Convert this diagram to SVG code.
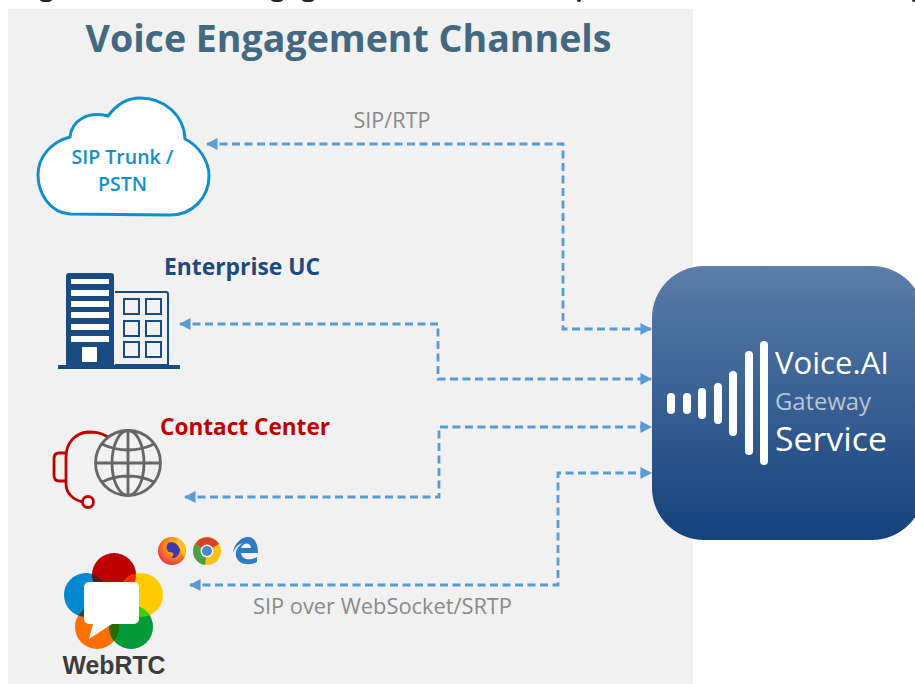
<svg xmlns="http://www.w3.org/2000/svg" width="915" height="684" viewBox="0 0 915 684">
<style>
.t{font-family:"Open Sans","Noto Sans","Liberation Sans",sans-serif}
.b{font-weight:600}
.lab{font-size:21px;fill:#8a8a8a}
.c{fill:none;stroke:#5b9bd5;stroke-width:2.8;stroke-dasharray:8 4.500}
.w{fill:#fff}
.bd{fill:none;stroke:#1a4a82;stroke-width:2}
.g{fill:none;stroke:#666;stroke-width:2.800}
.r{fill:none;stroke:#c00000;stroke-width:2.800}
</style>
<defs>
<marker id="ah" viewBox="0 0 10 10" refX="9" refY="5" markerWidth="4.400" markerHeight="4.200" orient="auto-start-reverse" markerUnits="strokeWidth"><path d="M0 0L10 5L0 10Z" fill="#5b9bd5"/></marker>
<linearGradient id="gr" x1="0" y1="0" x2="0" y2="1"><stop offset="0" stop-color="#5b7da8"/><stop offset="1" stop-color="#14427c"/></linearGradient>
<radialGradient id="ff" cx="0.6" cy="0.35" r="0.75"><stop offset="0" stop-color="#ffd52a"/><stop offset="0.55" stop-color="#ff7a1c"/><stop offset="1" stop-color="#d8235c"/></radialGradient>
<clipPath id="cr"><circle cx="114" cy="575" r="22"/></clipPath>
<clipPath id="co"><circle cx="97" cy="627" r="22"/></clipPath>
<clipPath id="cy"><circle cx="141" cy="595" r="22"/></clipPath>
</defs>
<rect width="915" height="684" fill="#fff"/>
<g id="clipped-caption" fill="#222"><ellipse cx="46" cy="0" rx="6" ry="2"/><ellipse cx="277" cy="0" rx="6" ry="2"/><ellipse cx="308" cy="0" rx="6" ry="2"/><ellipse cx="579" cy="0" rx="2" ry="2"/><ellipse cx="914" cy="0" rx="2" ry="2"/></g>
<rect x="8" y="9" width="685" height="675" fill="#f1f1f1"/>
<text class="t" font-weight="700" x="348.500" y="52" font-size="38" fill="#43687f" text-anchor="middle" textLength="526" lengthAdjust="spacingAndGlyphs">Voice Engagement Channels</text>
<g id="connectors">
<path class="c" d="M207 144H563V329H651" marker-start="url(#ah)" marker-end="url(#ah)"/>
<path class="c" d="M180 324H438V379H651" marker-start="url(#ah)" marker-end="url(#ah)"/>
<path class="c" d="M185 497H439V427H651" marker-start="url(#ah)" marker-end="url(#ah)"/>
<path class="c" d="M190 585H558V473H651" marker-start="url(#ah)" marker-end="url(#ah)"/>
</g>
<text class="t lab" x="392" y="128" text-anchor="middle" textLength="77" lengthAdjust="spacingAndGlyphs">SIP/RTP</text>
<text class="t lab" x="382.500" y="614" text-anchor="middle" textLength="259" lengthAdjust="spacingAndGlyphs">SIP over WebSocket/SRTP</text>
<g id="sip-trunk">
<path d="M70 214C50 213 38 193 38 175C38 157 51 142 70 137C72 120 88 111 108 116C117 104 128 98 140 98C164 98 184 115 185 139C199 146 209 161 209 176C209 197 193 215 170 215Z" fill="#fff" stroke="#0f8fcd" stroke-width="3"/>
<text class="t b" x="122.500" y="164" font-size="19.500" fill="#0f8fcd" text-anchor="middle" textLength="102" lengthAdjust="spacingAndGlyphs">SIP Trunk /</text>
<text class="t b" x="122.500" y="191" font-size="19.500" fill="#0f8fcd" text-anchor="middle">PSTN</text>
</g>
<g id="enterprise-uc">
<text class="t" font-weight="700" x="164" y="275" font-size="22.500" fill="#1c4a80" textLength="156" lengthAdjust="spacingAndGlyphs">Enterprise UC</text>
<path d="M66 276a3 3 0 0 1 3-3h42a3 3 0 0 1 3 3v90H66Z" fill="#1a4a82"/>
<g class="w"><rect x="71" y="279" width="38" height="5"/><rect x="71" y="290" width="38" height="6"/><rect x="71" y="301" width="38" height="6"/><rect x="71" y="312" width="38" height="6"/><rect x="71" y="324" width="38" height="6"/><rect x="71" y="336" width="38" height="6"/><rect x="82" y="347" width="15" height="15"/></g>
<path d="M115 292H166a2 2 0 0 1 2 2V365H115" fill="none" stroke="#1a4a82" stroke-width="2"/>
<rect x="124" y="299" width="15" height="15" class="bd"/><rect x="146" y="299" width="15" height="15" class="bd"/><rect x="124" y="321" width="15" height="15" class="bd"/><rect x="146" y="321" width="15" height="15" class="bd"/><rect x="124" y="342" width="15" height="15" class="bd"/><rect x="146" y="342" width="15" height="15" class="bd"/>
<rect x="58" y="365" width="122" height="4" fill="#1a4a82"/>
</g>
<g id="contact-center">
<text class="t" font-weight="700" x="160" y="435" font-size="22.500" fill="#c00000" textLength="170" lengthAdjust="spacingAndGlyphs">Contact Center</text>
<path class="r" d="M108 437C100 432 94 432 88 432C75 433 66 443 66 457V484C66 493 73 500 83 502"/>
<path class="r" d="M66 453H59C55 453 54 456 54 459V475C54 479 56 481 59 481H66"/>
<circle class="r" cx="88" cy="502" r="5.500"/>
<circle cx="128" cy="463" r="32.500" class="g"/>
<ellipse cx="128" cy="463" rx="16" ry="32.500" class="g"/>
<path class="g" d="M128 430V496M95.500 463H160.500M102 444C118 452 138 452 154 444M102 482C118 474 138 474 154 482"/>
</g>
<g id="browsers">
<circle cx="172" cy="551" r="14" fill="url(#ff)"/>
<path d="M168 543C173 541 178 544 180 549C180 555 176 559 171 558C175 555 174 552 169 552C166 550 166 546 168 543Z" fill="#3a3aa8"/>
<path d="M176 537C185 541 188 552 184 558L179 547Z" fill="#ffc21c"/>
<circle cx="207" cy="551" r="14" fill="#fbc013"/><path d="M207 551L195 544A14 14 0 0 1 219 544Z" fill="#d8402c"/><path d="M207 551L195 544A14 14 0 0 0 205 565Z" fill="#4c9f45"/><circle cx="207" cy="551" r="6.500" fill="#f4f4f4"/><circle cx="207" cy="551" r="5" fill="#4a88c8"/>
<path fill-rule="evenodd" d="M233 553C234 543 242 537 248 537C255 537 258 544 258 553H241C242 560 250 561 257 557V562C250 566 238 565 236 556C235 551 238 546 243 543C238 544 235 548 233 553ZM241 548H251C251 542 243 542 241 548Z" fill="#2f7ac4"/>
</g>
<g id="webrtc">
<circle cx="114" cy="575" r="22" fill="#bf0000"/>
<circle cx="86" cy="595" r="22" fill="#0089cf"/>
<circle cx="141" cy="595" r="22" fill="#ffcb00"/>
<circle cx="97" cy="627" r="22" fill="#ff7000"/>
<circle cx="131" cy="627" r="22" fill="#009a38"/>
<circle cx="86" cy="595" r="22" fill="#6b0f10" clip-path="url(#cr)"/>
<circle cx="141" cy="595" r="22" fill="#ff2a00" clip-path="url(#cr)"/>
<circle cx="86" cy="595" r="22" fill="#1c4a58" clip-path="url(#co)"/>
<circle cx="131" cy="627" r="22" fill="#2a6a00" clip-path="url(#co)"/>
<circle cx="131" cy="627" r="22" fill="#3fd000" clip-path="url(#cy)"/>
<path d="M89 582h45a5 5 0 0 1 5 5v32a5 5 0 0 1-5 5H112L89 639l4-15h-4a5 5 0 0 1-5-5v-32a5 5 0 0 1 5-5Z" fill="#fff"/>
<text x="114" y="674" font-family="Liberation Sans,Arial,sans-serif" font-weight="700" font-size="25" fill="#3c3c3c" text-anchor="middle" textLength="103" lengthAdjust="spacingAndGlyphs">WebRTC</text>
</g>
<g id="voice-ai">
<rect x="652" y="266" width="272" height="274" rx="52" fill="url(#gr)"/>
<g fill="#fff"><rect x="667" y="393" width="8" height="21" rx="4"/><rect x="683" y="393" width="8" height="21" rx="4"/><rect x="698" y="388" width="8" height="31" rx="4"/><rect x="714" y="383" width="8" height="41" rx="4"/><rect x="729" y="371" width="8" height="65" rx="4"/><rect x="745" y="351" width="8" height="104" rx="4"/><rect x="760" y="341" width="8" height="124" rx="4"/></g>
<text class="t" x="775" y="374" font-size="31" fill="#fff" textLength="114" lengthAdjust="spacingAndGlyphs">Voice.AI</text>
<text class="t" x="775" y="410" font-size="23.500" fill="#b6c5d8" textLength="96" lengthAdjust="spacingAndGlyphs">Gateway</text>
<text class="t" x="775" y="451" font-size="32" fill="#fff" textLength="112" lengthAdjust="spacingAndGlyphs">Service</text>
</g>
</svg>
